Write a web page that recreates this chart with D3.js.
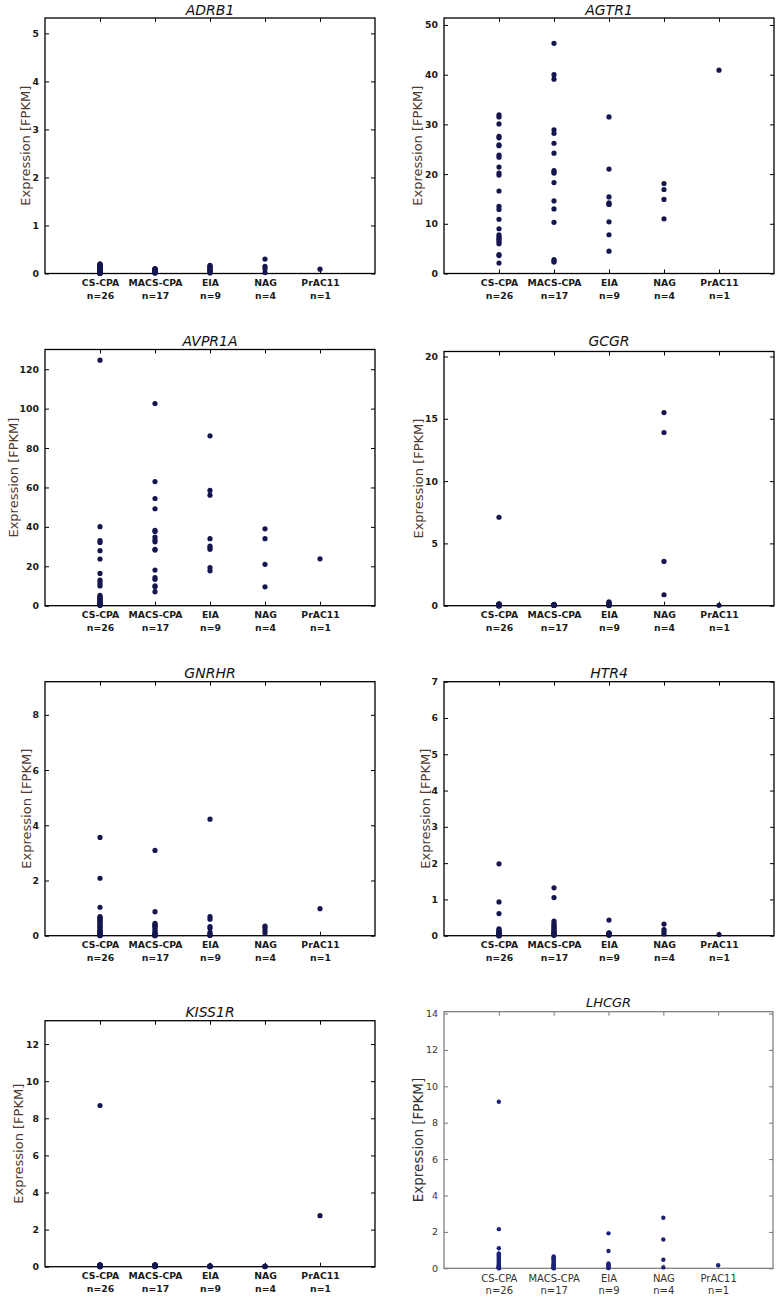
<!DOCTYPE html>
<html><head><meta charset="utf-8">
<script src="https://cdn.jsdelivr.net/npm/d3@7"></script>
<style>body{margin:0;background:#fff}svg{display:block}</style>
</head><body><svg id="c" width="780" height="1297"></svg>
<script>
const categories = ["CS-CPA","MACS-CPA","EIA","NAG","PrAC11"];
const sampleSizes = ["n=26","n=17","n=9","n=4","n=1"];
const genes = ["ADRB1","AGTR1","AVPR1A","GCGR","GNRHR","HTR4","KISS1R","LHCGR"];
const yMax = [5.32, 51.4, 130, 20.4, 9.2, 7, 13.26, 14.1];
const yTicks = [[0,1,2,3,4,5],[0,10,20,30,40,50],[0,20,40,60,80,100,120],[0,5,10,15,20],[0,2,4,6,8],[0,1,2,3,4,5,6,7],[0,2,4,6,8,10,12],[0,2,4,6,8,10,12,14]];

const ADRB1 = [
  [0.2,0.19,0.18,0.17,0.16,0.15,0.14,0.13,0.12,0.11,0.1,0.09,0.08,0.07,0.06,0.05,0.05,0.04,0.03,0.03,0.02,0.02,0.01,0.01,0,0],
  [0.1,0.09,0.09,0.08,0.07,0.07,0.06,0.06,0.05,0.05,0.04,0.04,0.03,0.03,0.02,0.01,0.01],
  [0.17,0.15,0.13,0.11,0.09,0.07,0.05,0.03,0.01],
  [0.3,0.15,0.1,0.02],
  [0.09]
];
const AGTR1 = [
  [31.9,31.5,30.1,27.6,27.3,25.9,25.7,23.8,23.4,21.4,20.2,19.8,16.6,13.5,12.9,10.9,9.0,7.8,7.4,7.0,6.8,6.4,6.0,3.8,3.6,2.1],
  [46.3,40.0,39.1,28.9,28.2,26.2,24.2,20.7,20.4,20.2,18.3,14.6,13.0,10.3,2.8,2.5,2.3],
  [31.5,21.0,15.4,14.2,14.0,13.9,10.4,7.8,4.5],
  [18.1,16.9,14.9,11.0],
  [40.9]
];
const AVPR1A = [
  [124.6,40.1,33.0,32.1,27.9,23.7,16.4,13.0,12.0,11.0,10.0,5.2,4.6,4.2,3.7,3.3,2.9,2.5,2.0,1.6,1.2,1.0,0.7,0.5,0.3,0.1],
  [102.6,63.0,54.4,49.2,38.2,37.7,34.8,33.5,32.4,28.6,28.2,18.1,14.2,13.4,10.1,9.6,7.1],
  [86.2,58.5,56.1,34.0,30.3,29.4,28.6,19.3,17.7],
  [39.0,34.0,21.0,9.6],
  [23.8]
];
const GCGR = [
  [7.1,0.15,0.12,0.1,0.09,0.08,0.07,0.06,0.05,0.05,0.04,0.04,0.03,0.03,0.03,0.02,0.02,0.02,0.01,0.01,0.01,0.01,0,0,0,0],
  [0.08,0.07,0.07,0.06,0.06,0.05,0.05,0.05,0.04,0.04,0.04,0.03,0.03,0.03,0.02,0.02,0.02],
  [0.3,0.25,0.18,0.12,0.08,0.05,0.03,0.02,0.01],
  [15.5,13.9,3.55,0.88],
  [0.03]
];
const GNRHR = [
  [3.56,2.08,1.03,0.69,0.65,0.62,0.58,0.54,0.5,0.47,0.42,0.37,0.33,0.29,0.25,0.2,0.17,0.13,0.1,0.08,0.06,0.04,0.03,0.02,0.01,0],
  [3.09,0.87,0.45,0.4,0.37,0.33,0.29,0.22,0.15,0.1,0.06,0.04,0.03,0.02,0.01,0.01,0],
  [4.22,0.69,0.6,0.33,0.27,0.12,0.06,0.02,0.01],
  [0.35,0.3,0.2,0.1],
  [0.98]
];
const HTR4 = [
  [1.98,0.93,0.61,0.19,0.16,0.12,0.1,0.08,0.07,0.06,0.05,0.05,0.04,0.04,0.03,0.03,0.02,0.02,0.02,0.01,0.01,0.01,0.01,0,0,0],
  [1.32,1.05,0.4,0.34,0.3,0.26,0.22,0.19,0.16,0.13,0.1,0.08,0.06,0.04,0.03,0.02,0.01],
  [0.43,0.08,0.07,0.06,0.05,0.04,0.03,0.02,0.01],
  [0.32,0.17,0.11,0.05],
  [0.03]
];
const KISS1R = [
  [8.69,0.1,0.09,0.08,0.08,0.07,0.07,0.06,0.06,0.05,0.05,0.05,0.04,0.04,0.04,0.03,0.03,0.03,0.02,0.02,0.02,0.01,0.01,0.01,0,0],
  [0.1,0.09,0.09,0.08,0.08,0.07,0.07,0.06,0.06,0.05,0.05,0.04,0.04,0.03,0.02,0.01,0],
  [0.04,0.03,0.03,0.02,0.02,0.02,0.01,0.01,0],
  [0.03,0.02,0.01,0],
  [2.75]
];
const LHCGR = [
  [9.15,2.15,1.1,0.82,0.76,0.7,0.64,0.59,0.52,0.46,0.4,0.35,0.3,0.24,0.2,0.15,0.12,0.09,0.07,0.05,0.04,0.03,0.02,0.01,0.01,0],
  [0.65,0.6,0.55,0.48,0.4,0.34,0.27,0.22,0.16,0.12,0.09,0.07,0.05,0.03,0.02,0.01,0],
  [1.92,0.95,0.27,0.2,0.15,0.09,0.05,0.02,0.01],
  [2.78,1.58,0.47,0.05],
  [0.17]
];
const geneValues = [ADRB1, AGTR1, AVPR1A, GCGR, GNRHR, HTR4, KISS1R, LHCGR];

// layout (pixel geometry, not data)
const layout = [
  {x0:45, x1:375, top:18,    bottom:273.5, labelX:25,  titleY:14.5},
  {x0:444,x1:774, top:18,    bottom:273.5, labelX:417, titleY:14.5},
  {x0:45, x1:375, top:349.5, bottom:605.7, labelX:13,  titleY:345.5},
  {x0:444,x1:774, top:351.5, bottom:605.7, labelX:418, titleY:346},
  {x0:45, x1:375, top:681.7, bottom:935.7, labelX:26,  titleY:678},
  {x0:444,x1:774, top:681.7, bottom:935.7, labelX:425, titleY:678},
  {x0:45, x1:375, top:1020.7,bottom:1266.7,labelX:18,  titleY:1017},
  {x0:444,x1:773, top:1011.7,bottom:1268.3,labelX:418, titleY:1006.5, modern:true}
];

const svg = d3.select("#c");
const FONT = "'DejaVu Sans', sans-serif";

genes.forEach((gene, gi) => {
  const L = layout[gi];
  const modern = !!L.modern;
  const g = svg.append("g");
  const x = d3.scalePoint().domain(categories).range([L.x0, L.x1]).padding(1);
  const y = d3.scaleLinear().domain([0, yMax[gi]]).range([L.bottom, L.top]);
  const frameColor = modern ? "#777" : "#000";
  const tickFont = modern ? "normal" : "bold";
  const tickColor = modern ? "#333" : "#1a1a1a";
  const tickSize = modern ? "9.5px" : "9.3px";

  // left axis (labels + inward ticks)
  const ly = g.append("g").attr("transform", `translate(${L.x0},0)`)
    .call(d3.axisLeft(y).tickValues(yTicks[gi]).tickSizeInner(-4).tickSizeOuter(0).tickPadding(6).tickFormat(d3.format("d")));
  ly.select(".domain").remove();
  ly.selectAll("line").attr("stroke", frameColor);
  ly.selectAll("text").attr("font-family", FONT).attr("font-size", tickSize)
    .attr("font-weight", tickFont).attr("fill", tickColor);

  // right ticks
  const ry = g.append("g").attr("transform", `translate(${L.x1},0)`)
    .call(d3.axisRight(y).tickValues(yTicks[gi]).tickSizeInner(-4).tickSizeOuter(0).tickFormat(""));
  ry.select(".domain").remove();
  ry.selectAll("line").attr("stroke", frameColor);

  // top ticks
  const tx = g.append("g").attr("transform", `translate(0,${L.top})`)
    .call(d3.axisTop(x).tickSizeInner(-4).tickSizeOuter(0).tickFormat(""));
  tx.select(".domain").remove();
  tx.selectAll("line").attr("stroke", frameColor);

  // bottom axis with two-line labels
  const bx = g.append("g").attr("transform", `translate(0,${L.bottom})`)
    .call(d3.axisBottom(x).tickSizeInner(-4).tickSizeOuter(0).tickPadding(8));
  bx.select(".domain").remove();
  bx.selectAll("line").attr("stroke", frameColor);
  bx.selectAll("text").each(function(d, i) {
    const t = d3.select(this);
    t.text(null).attr("y", 0).attr("dy", null)
      .attr("font-family", FONT).attr("font-size", modern ? "10px" : "9.3px")
      .attr("font-weight", tickFont).attr("fill", tickColor);
    t.append("tspan").attr("x", 0).attr("y", modern ? 13.5 : 12.5).text(d);
    t.append("tspan").attr("x", 0).attr("y", modern ? 26 : 25).text(sampleSizes[i]);
  });

  // frame
  g.append("rect").attr("x", L.x0).attr("y", L.top)
    .attr("width", L.x1 - L.x0).attr("height", L.bottom - L.top)
    .attr("fill", "none").attr("stroke", frameColor).attr("stroke-width", modern ? 1.2 : 1.3);

  // points
  const pts = [];
  geneValues[gi].forEach((vals, ci) => vals.forEach(v => pts.push({c: categories[ci], v})));
  g.append("g").selectAll("circle").data(pts).join("circle")
    .attr("cx", d => x(d.c)).attr("cy", d => y(d.v))
    .attr("r", modern ? 2.2 : 2.6)
    .attr("fill", modern ? "#1c2378" : "#16164f");

  // title
  g.append("text").attr("x", (L.x0 + L.x1) / 2).attr("y", L.titleY)
    .attr("text-anchor", "middle").attr("font-family", FONT)
    .attr("font-style", "italic").attr("font-size", modern ? "13px" : "14px")
    .attr("fill", "#111").text(gene);

  // y label
  const cy = (L.top + L.bottom) / 2;
  g.append("text").attr("transform", `translate(${L.labelX},${cy}) rotate(-90)`)
    .attr("text-anchor", "middle").attr("dominant-baseline", "central")
    .attr("font-family", FONT).attr("font-size", modern ? "13.5px" : "13px")
    .attr("fill", modern ? "#333" : "#4d3a30").text("Expression [FPKM]");
});
</script>
</body></html>
